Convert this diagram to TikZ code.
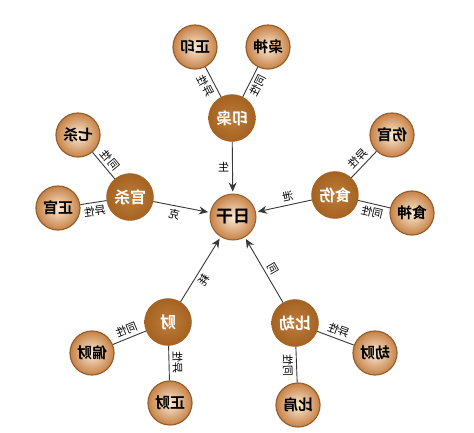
\documentclass[tikz,border=0pt]{standalone}
\usepackage{fontspec}
\usepackage{graphicx}
\usepackage{xcolor}
\usetikzlibrary{arrows.meta}
\newfontfamily\cjk[BoldFont={Noto Sans CJK SC Bold}]{Noto Sans CJK SC}
\definecolor{ganbrown}{RGB}{184,114,44}
\definecolor{ganbrowndark}{RGB}{165,98,32}
\definecolor{satlight}{RGB}{252,234,214}
\definecolor{satdark}{RGB}{198,130,70}
\definecolor{ringbrown}{RGB}{150,95,45}
\definecolor{linegray}{RGB}{55,55,55}
\newcommand{\flip}[1]{\reflectbox{#1}}

\begin{document}
\begin{tikzpicture}[x=1pt,y=-1pt]
\tikzstyle{every node}=[font=\cjk]
\tikzstyle{rigan}=[circle,minimum size=46pt,inner sep=0pt,draw=ringbrown,line width=1pt,inner color=satlight,outer color=satdark,font=\cjk\bfseries\fontsize{17}{17}\selectfont]
\tikzstyle{grp}=[circle,minimum size=47pt,inner sep=0pt,draw=ganbrowndark,inner color=ganbrown!92!white,outer color=ganbrowndark,text=white,font=\cjk\bfseries\fontsize{16}{16}\selectfont]
\tikzstyle{sat}=[circle,minimum size=44pt,inner sep=0pt,draw=ringbrown,line width=1.2pt,inner color=satlight,outer color=satdark,font=\cjk\bfseries\fontsize{15}{15}\selectfont]
\tikzstyle{lbl}=[font=\cjk\fontsize{11}{11}\selectfont,inner sep=3pt]
\tikzstyle{link}=[draw=linegray,line width=0.9pt]
\tikzstyle{arr}=[link,-{Stealth[length=9pt,width=8pt]},shorten >=2pt]
\useasboundingbox (0,0) rectangle (474,432);
% centre and the five groups
\node[rigan] (rigan) at (233,217) {\flip{日干}};
\node[grp] (yin) at (232,118) {\flip{印枭}};
\node[grp] (guan) at (130,197) {\flip{官杀}};
\node[grp] (shi) at (335,195) {\flip{食伤}};
\node[grp] (cai) at (168,322) {\flip{财}};
\node[grp] (bi) at (295,323) {\flip{比劫}};
% outer circles
\node[sat] (zhengyin) at (195,47) {\flip{正印}};
\node[sat] (xiaoshen) at (268,47) {\flip{枭神}};
\node[sat] (qisha) at (78,135) {\flip{七杀}};
\node[sat] (zhengguan) at (58,208) {\flip{正官}};
\node[sat] (shangguan) at (392,135) {\flip{伤官}};
\node[sat] (shishen) at (412,213) {\flip{食神}};
\node[sat] (piancai) at (92,353) {\flip{偏财}};
\node[sat] (zhengcai) at (170,403) {\flip{正财}};
\node[sat] (jiecai) at (375,353) {\flip{劫财}};
\node[sat] (bijian) at (298,405) {\flip{比肩}};
% arrows into the centre
\draw[arr] (yin) -- node[lbl,left] {\flip{生}} (rigan);
\draw[arr] (guan) -- node[lbl,sloped,below,pos=0.4] {\flip{克}} (rigan);
\draw[arr] (shi) -- node[lbl,sloped,above,pos=0.4] {\flip{泄}} (rigan);
\draw[arr] (cai) -- node[lbl,sloped,below,pos=0.4] {\flip{耗}} (rigan);
\draw[arr] (bi) -- node[lbl,sloped,above,pos=0.45] {\flip{同}} (rigan);
% links to the outer circles
\draw[link] (zhengyin) -- node[lbl,sloped,below] {\flip{异性}} (yin);
\draw[link] (xiaoshen) -- node[lbl,sloped,below] {\flip{同性}} (yin);
\draw[link] (qisha) -- node[lbl,sloped,above] {\flip{同性}} (guan);
\draw[link] (zhengguan) -- node[lbl,sloped,below] {\flip{异性}} (guan);
\draw[link] (shangguan) -- node[lbl,sloped,above] {\flip{异性}} (shi);
\draw[link] (shishen) -- node[lbl,sloped,below] {\flip{同性}} (shi);
\draw[link] (piancai) -- node[lbl,sloped,above] {\flip{同性}} (cai);
\draw[link] (cai) -- node[lbl,sloped,above] {\flip{异性}} (zhengcai);
\draw[link] (jiecai) -- node[lbl,sloped,above] {\flip{异性}} (bi);
\draw[link] (bi) -- node[lbl,sloped,below] {\flip{同性}} (bijian);
\end{tikzpicture}
\end{document}
